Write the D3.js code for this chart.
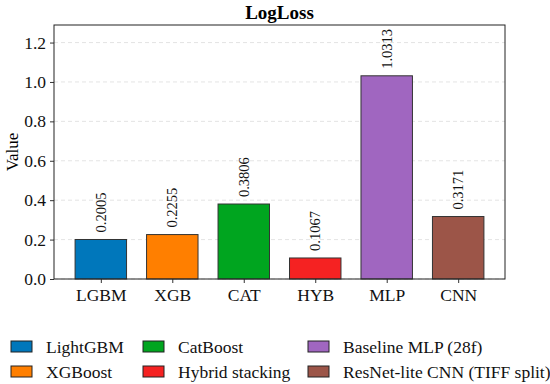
<!DOCTYPE html>
<html>
<head>
<meta charset="utf-8">
<script src="https://cdn.jsdelivr.net/npm/d3@7"></script>
<style>
  body { margin: 0; background: #fff; }
  svg text { font-family: "Liberation Serif", serif !important; }
</style>
</head>
<body>
<svg id="chart" width="550" height="384"></svg>
<script>
const categories = ["LGBM", "XGB", "CAT", "HYB", "MLP", "CNN"];
const values = [0.2005, 0.2255, 0.3806, 0.1067, 1.0313, 0.3171];
const legendNames = ["LightGBM", "XGBoost", "CatBoost", "Hybrid stacking", "Baseline MLP (28f)", "ResNet-lite CNN (TIFF split)"];
const colors = ["#0077bb", "#ff7f00", "#00a51f", "#f52222", "#a066c0", "#9c5548"];
const yTicks = [0, 0.2, 0.4, 0.6, 0.8, 1.0, 1.2];

const svg = d3.select("#chart");
const plot = { left: 54, right: 505, top: 25, bottom: 279 };

const x = d3.scaleLinear().domain([-0.655, categories.length - 1 + 0.655]).range([plot.left, plot.right]);
const y = d3.scaleLinear().domain([0, d3.max(values) * 1.25]).range([plot.bottom, plot.top]);
const barW = x(0.72) - x(0);

// grid lines
svg.append("g")
  .selectAll("line")
  .data(yTicks)
  .join("line")
  .attr("x1", plot.left)
  .attr("x2", plot.right)
  .attr("y1", (d) => y(d))
  .attr("y2", (d) => y(d))
  .attr("stroke", "#dddddd")
  .attr("stroke-width", 0.8)
  .attr("stroke-dasharray", "4,3");

// bars
svg.append("g")
  .selectAll("rect")
  .data(values)
  .join("rect")
  .attr("x", (d, i) => x(i) - barW / 2)
  .attr("y", (d) => y(d))
  .attr("width", barW)
  .attr("height", (d) => plot.bottom - y(d))
  .attr("fill", (d, i) => colors[i])
  .attr("stroke", "#333")
  .attr("stroke-width", 1);

// value labels
svg.append("g")
  .selectAll("text")
  .data(values)
  .join("text")
  .attr("transform", (d, i) => `translate(${x(i) + 5},${y(d) - 7}) rotate(-90)`)
  .style("font-size", "14.5px")
  .attr("fill", "#111")
  .text((d) => d.toFixed(4));

// axes
const yAxis = d3.axisLeft(y).tickValues(yTicks).tickFormat(d3.format(".1f")).tickSizeOuter(0).tickSize(4);
const gy = svg.append("g").attr("transform", `translate(${plot.left},0)`).call(yAxis);
gy.select(".domain").remove();
gy.selectAll("text").style("font-size", "17.5px").attr("fill", "#111").attr("dx", "-1");
gy.selectAll("line").attr("stroke", "#333");

const xAxis = d3.axisBottom(x).tickValues(d3.range(categories.length)).tickFormat((d) => categories[d]).tickSize(4).tickSizeOuter(0);
const gx = svg.append("g").attr("transform", `translate(0,${plot.bottom})`).call(xAxis);
gx.select(".domain").remove();
gx.selectAll("text").style("font-size", "17.5px").attr("fill", "#111").attr("dy", "0.85em");
gx.selectAll("line").attr("stroke", "#333");

// frame
svg.append("rect")
  .attr("x", plot.left)
  .attr("y", plot.top)
  .attr("width", plot.right - plot.left)
  .attr("height", plot.bottom - plot.top)
  .attr("fill", "none")
  .attr("stroke", "#222")
  .attr("stroke-width", 1);

// title + y label
svg.append("text")
  .attr("x", (plot.left + plot.right) / 2)
  .attr("y", 19)
  .attr("text-anchor", "middle")
  .style("font-size", "19px")
  .attr("font-weight", "bold")
  .text("LogLoss");

svg.append("text")
  .attr("transform", `translate(18,${(plot.top + plot.bottom) / 2}) rotate(-90)`)
  .attr("text-anchor", "middle")
  .style("font-size", "17px")
  .text("Value");

// legend, column-major 2 rows
const legendCols = [11, 143, 308];
const legendRows = [347, 372];
const legend = svg.append("g")
  .selectAll("g")
  .data(legendNames)
  .join("g")
  .attr("transform", (d, i) => `translate(${legendCols[Math.floor(i / 2)]},${legendRows[i % 2]})`);

legend.append("rect")
  .attr("x", 0)
  .attr("y", -6)
  .attr("width", 21)
  .attr("height", 11)
  .attr("fill", (d, i) => colors[i])
  .attr("stroke", "#222")
  .attr("stroke-width", 1);

legend.append("text")
  .attr("x", 35)
  .attr("y", 5.5)
  .style("font-size", "17.5px")
  .attr("fill", "#111")
  .text((d) => d);
</script>
</body>
</html>
